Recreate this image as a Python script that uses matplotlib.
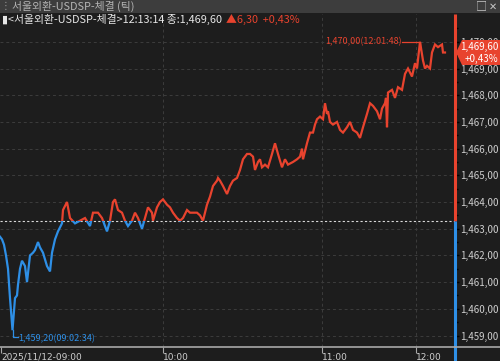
import matplotlib
matplotlib.use("Agg")
import matplotlib.pyplot as plt
from matplotlib.patches import Rectangle, Polygon
from matplotlib.ticker import FixedLocator, FuncFormatter
import numpy as np

plt.rcParams['font.family'] = ['Noto Sans CJK KR', 'DejaVu Sans']

# ---- data (tick index, price) ----
tick_idx = [0, 2, 4, 6, 8, 10, 12.5, 15, 17, 18, 20, 22, 25, 27, 30, 33, 35, 38, 40, 43,
            47, 50, 52, 55, 58, 62, 63, 67, 70, 75, 80, 85, 90, 93, 98, 102, 107, 110, 113, 115,
            118, 122, 125, 128, 132, 135, 138, 142, 145, 148, 152, 153, 157, 160, 163, 167, 170, 173, 177, 180,
            183, 187, 190, 193, 197, 200, 203, 207, 210, 213, 217, 218, 220, 223, 227, 230, 233, 237, 240, 243,
            247, 250, 253, 255, 258, 260, 262, 265, 268, 272, 275, 278, 282, 285, 288, 293, 297, 300, 302, 303,
            307, 310, 313, 315, 317, 320, 323, 325, 327, 328, 330, 333, 337, 340, 343, 347, 350, 353, 357, 360,
            363, 367, 370, 373, 377, 380, 382, 385, 386, 387, 388, 392, 395, 398, 402, 405, 408, 412, 415, 417,
            420, 423, 425, 427, 430, 432, 435, 438, 442, 443, 445]
prices = [1462.7, 1462.6, 1462.4, 1462.0, 1461.5, 1460.4, 1459.2, 1460.4, 1460.5, 1460.9, 1461.5, 1461.8, 1461.6, 1461.0, 1462.0, 1462.1, 1462.2, 1462.5, 1462.3, 1462.1,
          1461.6, 1461.4, 1462.1, 1462.6, 1462.9, 1463.2, 1463.7, 1464.0, 1463.4, 1463.2, 1463.3, 1463.4, 1463.1, 1463.6, 1463.6, 1463.4, 1462.9, 1463.3, 1464.0, 1464.1,
          1463.7, 1463.6, 1463.3, 1463.1, 1463.3, 1463.6, 1463.4, 1463.0, 1463.4, 1463.8, 1463.6, 1463.3, 1463.8, 1464.0, 1464.1, 1463.9, 1463.8, 1463.6, 1463.4, 1463.3,
          1463.4, 1463.7, 1463.6, 1463.6, 1463.6, 1463.5, 1463.3, 1463.9, 1464.2, 1464.6, 1464.8, 1464.9, 1464.8, 1464.6, 1464.3, 1464.6, 1464.8, 1464.9, 1465.2, 1465.6,
          1465.8, 1465.8, 1465.7, 1465.2, 1465.5, 1465.6, 1465.3, 1465.4, 1465.3, 1465.8, 1466.2, 1465.8, 1465.3, 1465.6, 1465.4, 1465.5, 1465.6, 1465.7, 1466.0, 1465.6,
          1466.2, 1466.6, 1466.6, 1466.9, 1467.1, 1467.2, 1467.1, 1467.7, 1467.3, 1467.4, 1467.0, 1466.9, 1467.0, 1466.7, 1466.6, 1466.8, 1467.0, 1466.7, 1466.6, 1466.4,
          1466.8, 1467.3, 1467.7, 1467.6, 1467.4, 1467.1, 1467.5, 1467.7, 1467.9, 1466.8, 1468.1, 1468.2, 1467.9, 1468.3, 1468.2, 1468.8, 1469.0, 1468.7, 1469.2, 1469.0,
          1470.0, 1469.3, 1469.0, 1469.1, 1469.0, 1469.6, 1469.9, 1469.8, 1469.9, 1469.6, 1469.6]

prev_close = 1463.3
last_price = 1469.60
change = 6.30
change_pct = 0.43
high_label = "1,470,00(12:01:48)"
low_label = "1,459,20(09:02:34)"
time_ticks = [1, 163, 322, 416]
time_labels = ["2025/11/12-09:00", "10:00", "11:00", "12:00"]
y_major = [1459, 1460, 1461, 1462, 1463, 1464, 1465, 1466, 1467, 1468, 1469, 1470]

RED = '#e8432e'
BLUE = '#2e8fe6'
BG = '#1d1d1d'
TXT = '#cfcfcf'
GRID = '#3c3c3c'

W, H = 500, 361
fig = plt.figure(figsize=(W / 100, H / 100), dpi=100, facecolor=BG)


def px(x, y):
    return (x / W, 1 - y / H)


def kfmt(v):
    return f"{v:,.2f}".replace('.', '#').replace('#', ',')


# top title bar
fig.add_artist(Rectangle(px(0, 13), 1, 13 / H, transform=fig.transFigure,
                         facecolor='#3d3d3d', edgecolor='none', zorder=0))

ax_bottom, ax_top = 347, 14
ax = fig.add_axes([0, (H - ax_bottom) / H, 455 / W, (ax_bottom - ax_top) / H])
ax.set_facecolor(BG)
x0, x1 = 0, 455
ax.set_xlim(x0, x1)
ppu = 26.7  # pixels per unit (for limits)
ylo = prev_close - (ax_bottom - 220.7) / ppu
yhi = prev_close + (220.7 - ax_top) / ppu
ax.set_ylim(ylo, yhi)

for s in ax.spines.values():
    s.set_visible(False)

# grids
for yv in y_major:
    ax.axhline(yv, color=GRID, lw=0.7, ls=(0, (3, 3)), zorder=1)
for xv in time_ticks[1:]:
    ax.axvline(xv, color=GRID, lw=0.7, ls=(0, (3, 3)), zorder=1)

# previous close reference
ax.axhline(prev_close, color='#d8d8d8', lw=0.8, ls=(0, (2, 2)), zorder=2)

# price line split by colour
for col, lo, hi in [(RED, prev_close, yhi + 5), (BLUE, ylo - 5, prev_close)]:
    ln, = ax.plot(tick_idx, prices, color=col, lw=1.6, zorder=3, solid_joinstyle='miter')
    clip = Rectangle((x0 - 10, lo), x1 - x0 + 20, hi - lo, transform=ax.transData)
    ln.set_clip_path(clip)

# right axis coloured line
ax.plot([x1, x1], [prev_close, yhi], color=RED, lw=2.2, clip_on=False, zorder=4,
        solid_capstyle='butt')
ax.plot([x1, x1], [prev_close - (361 - 220.7) / ppu, prev_close], color=BLUE, lw=2.2,
        clip_on=False, zorder=4, solid_capstyle='butt')

# y ticks on right
ax.yaxis.tick_right()
ax.yaxis.set_major_locator(FixedLocator(y_major))
y_minor = [v + 0.5 for v in y_major[:-1]] + [1458.5, 1470.5]
ax.yaxis.set_minor_locator(FixedLocator(y_minor))
ax.yaxis.set_major_formatter(FuncFormatter(lambda v, p: kfmt(v)))
ax.tick_params(axis='y', which='major', length=3, width=1, pad=1, labelsize=7, labelcolor=TXT)
ax.tick_params(axis='y', which='minor', length=2, width=1)
fig.canvas.draw()
for t, loc in zip(ax.yaxis.get_major_ticks(), ax.yaxis.get_majorticklocs()):
    t.tick2line.set_color(RED if loc > prev_close else BLUE)
for t, loc in zip(ax.yaxis.get_minor_ticks(), ax.yaxis.get_minorticklocs()):
    t.tick2line.set_color(RED if loc > prev_close else BLUE)

# x ticks
ax.set_xticks(time_ticks)
ax.set_xticklabels(time_labels, ha='left', family='DejaVu Sans')
ax.tick_params(axis='x', length=4, width=0.8, color='#a8a8a8', pad=0, labelsize=6.5, labelcolor=TXT)

# x axis baseline across the whole width
fig.add_artist(plt.Line2D([0, 1], [px(0, ax_bottom)[1]] * 2, transform=fig.transFigure,
                          color='#a8a8a8', lw=1.2, zorder=5))

# high annotation
i_hi = int(np.argmax(prices))
xh, yh = tick_idx[i_hi], prices[i_hi]
ax.plot([xh - 18, xh, xh], [yh, yh, yh - 0.15], color=RED, lw=0.9, zorder=4)
ax.text(xh - 18, yh, high_label, color=RED, fontsize=6.5, ha='right', va='center', zorder=4)

# low annotation
i_lo = int(np.argmin(prices))
xl, yl = tick_idx[i_lo], prices[i_lo]
ylow2 = yl - 0.27
ax.plot([xl, xl, xl + 5], [yl, ylow2, ylow2], color=BLUE, lw=0.9, zorder=4, clip_on=False)
ax.text(xl + 6, ylow2 - 0.03, low_label, color=BLUE, fontsize=6.5, ha='left', va='center', zorder=4)

# header
fig.text(*px(1, 6.5), "⋮", color='#9a9a9a', fontsize=7, va='center', ha='left')
fig.text(*px(12, 6.5), "서울외환-USDSP-체결 (틱)", color='#b4b4b4', fontsize=7.8, va='center', ha='left')
fig.text(*px(476, 6.5), "□", color='#c8c8c8', fontsize=8, va='center', ha='left')
fig.text(*px(489, 6.5), "✕", color='#c8c8c8', fontsize=7, va='center', ha='left')

hdr = "▮<서울외환-USDSP-체결>12:13:14 종:" + kfmt(last_price)
t1 = fig.text(*px(2, 19.5), hdr, color='#e6e6e6', fontsize=7.8, va='center', ha='left')
fig.canvas.draw()
bb = t1.get_window_extent()
chg_txt = f"▲{change:.2f}".replace('.', ',') + f"  +{change_pct:.2f}%".replace('.', ',')
fig.text(bb.x1 / W + 4 / W, px(0, 19.5)[1], chg_txt, color=RED, fontsize=7.8, va='center', ha='left')

# last price flag
flag = Polygon([px(456, 52.5), px(462, 40), px(500, 40), px(500, 65), px(462, 65)],
               closed=True, transform=fig.transFigure, facecolor=RED, edgecolor='none', zorder=10)
fig.add_artist(flag)
fig.text(*px(498, 46.5), kfmt(last_price), color='white', fontsize=7, ha='right', va='center', zorder=11)
fig.text(*px(498, 58.5), f"+{change_pct:.2f}%".replace('.', ','), color='white', fontsize=7,
         ha='right', va='center', zorder=11)

fig.savefig("out.png", dpi=100, facecolor=BG)
